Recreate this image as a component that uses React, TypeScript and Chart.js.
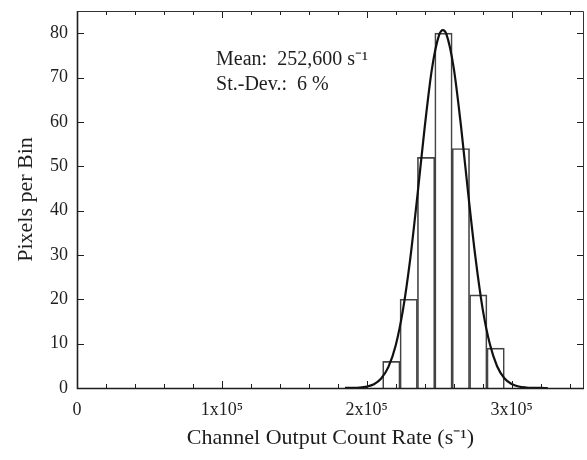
import React, { useEffect, useRef } from 'react';
import { Chart, registerables } from 'chart.js';

Chart.register(...registerables);

// Histogram bins (bin centres, 12,000 s^-1 wide) and counts
const BIN_CENTERS = [217000, 229000, 241000, 253000, 265000, 277000, 289000];
const BIN_COUNTS = [6, 20, 52, 80, 54, 21, 9];

// Gaussian fit curve
const FIT_X = [
  185000, 190000, 195000, 200000, 205000, 210000, 215000, 220000, 225000, 230000,
  235000, 240000, 245000, 250000, 252600, 255000, 260000, 265000, 270000, 275000,
  280000, 285000, 290000, 295000, 300000, 305000, 310000, 315000, 320000, 325000,
];
const FIT_Y = [
  0.01, 0.03, 0.1, 0.32, 0.86, 2.13, 4.75, 9.6, 17.55, 29.0,
  43.4, 58.7, 71.9, 79.6, 80.7, 79.8, 72.3, 59.3, 44.0, 29.6,
  17.9, 9.9, 4.9, 2.2, 0.9, 0.33, 0.11, 0.03, 0.01, 0.0,
];

const X_TICK_VALUES = [0, 100000, 200000, 300000];
const X_TICK_LABELS = ['0', '1x10\u2075', '2x10\u2075', '3x10\u2075'];
const X_MINOR_STEP = 20000;
const X_MAX = 350000;
const Y_TICK_VALUES = [0, 10, 20, 30, 40, 50, 60, 70, 80];
const Y_MAX = 85;

const X_TITLE = 'Channel Output Count Rate (s\u207B\u00B9)';
const Y_TITLE = 'Pixels per Bin';
const ANNOTATION_LINES = ['Mean:  252,600 s\u207B\u00B9', 'St.-Dev.:  6 %'];
const ANNOTATION_X = 96000;
const ANNOTATION_Y = [72.9, 67.3];

const SERIF = '"Liberation Serif", "Times New Roman", serif';
const INK = '#1e1e1e';

const framePlugin = {
  id: 'frameTicks',
  afterDatasetsDraw(chart: any) {
    const { ctx, chartArea: a, scales } = chart;
    const x = scales.x;
    const y = scales.y;
    ctx.save();
    ctx.strokeStyle = INK;
    ctx.lineWidth = 1;
    ctx.beginPath();
    for (let v = 0; v <= X_MAX; v += X_MINOR_STEP) {
      const px = Math.round(x.getPixelForValue(v)) + 0.5;
      const len = v % 100000 === 0 ? 7 : 4;
      ctx.moveTo(px, a.bottom);
      ctx.lineTo(px, a.bottom - len);
      ctx.moveTo(px, a.top);
      ctx.lineTo(px, a.top + len);
    }
    for (const v of Y_TICK_VALUES) {
      const py = Math.round(y.getPixelForValue(v)) + 0.5;
      ctx.moveTo(a.left, py);
      ctx.lineTo(a.left + 7, py);
      ctx.moveTo(a.right, py);
      ctx.lineTo(a.right - 7, py);
    }
    ctx.stroke();

    // frame: top/right thin, left/bottom heavier
    ctx.strokeStyle = '#333';
    ctx.lineWidth = 1;
    ctx.beginPath();
    ctx.moveTo(a.left, a.top + 0.5);
    ctx.lineTo(a.right - 0.5, a.top + 0.5);
    ctx.lineTo(a.right - 0.5, a.bottom);
    ctx.stroke();
    ctx.strokeStyle = INK;
    ctx.lineWidth = 1.6;
    ctx.beginPath();
    ctx.moveTo(a.left + 0.5, a.top);
    ctx.lineTo(a.left + 0.5, a.bottom + 0.5);
    ctx.lineTo(a.right, a.bottom + 0.5);
    ctx.stroke();

    // annotation
    ctx.fillStyle = INK;
    ctx.font = `20px ${SERIF}`;
    ctx.textAlign = 'left';
    ctx.textBaseline = 'alphabetic';
    ANNOTATION_LINES.forEach((t, i) => {
      ctx.fillText(t, x.getPixelForValue(ANNOTATION_X), y.getPixelForValue(ANNOTATION_Y[i]));
    });
    ctx.restore();
  },
};

export default function App() {
  const ref = useRef<HTMLCanvasElement | null>(null);

  useEffect(() => {
    document.body.style.margin = '0';
    const canvas = ref.current;
    if (!canvas) return;
    const chart = new Chart(canvas, {
      data: {
        datasets: [
          {
            type: 'line',
            label: 'Gaussian fit',
            data: FIT_X.map((v, i) => ({ x: v, y: FIT_Y[i] })),
            borderColor: '#111',
            borderWidth: 2.2,
            pointRadius: 0,
            fill: false,
            cubicInterpolationMode: 'monotone',
            order: 0,
          } as any,
          {
            type: 'bar',
            label: 'Pixels',
            data: BIN_CENTERS.map((v, i) => ({ x: v, y: BIN_COUNTS[i] })),
            backgroundColor: 'rgba(0,0,0,0)',
            borderColor: '#444',
            borderWidth: 1,
            barPercentage: 1,
            categoryPercentage: 1,
            order: 1,
          } as any,
        ],
      },
      options: {
        animation: false,
        responsive: false,
        maintainAspectRatio: false,
        layout: { padding: { top: 11, right: 3, left: 0, bottom: 0 } },
        plugins: {
          legend: { display: false },
          tooltip: { enabled: false },
        },
        scales: {
          x: {
            type: 'linear',
            offset: false,
            min: 0,
            max: X_MAX,
            grid: { display: false, drawTicks: false, offset: false },
            border: { display: false },
            afterBuildTicks: (s: any) => {
              s.ticks = X_TICK_VALUES.map((v) => ({ value: v }));
            },
            afterFit: (s: any) => {
              s.height = 72;
              s.paddingLeft = 0;
              s.paddingRight = 0;
            },
            ticks: {
              autoSkip: false,
              maxRotation: 0,
              padding: 11,
              color: INK,
              font: { family: SERIF, size: 18 },
              callback: (_v: any, i: number) => X_TICK_LABELS[i],
            },
            title: {
              display: true,
              text: X_TITLE,
              color: INK,
              font: { family: SERIF, size: 22 },
              padding: { top: 0, bottom: 9 },
            },
          },
          y: {
            type: 'linear',
            min: 0,
            max: Y_MAX,
            grid: { display: false, drawTicks: false },
            border: { display: false },
            afterBuildTicks: (s: any) => {
              s.ticks = Y_TICK_VALUES.map((v) => ({ value: v }));
            },
            afterFit: (s: any) => {
              s.width = 77;
              s.paddingTop = 0;
              s.paddingBottom = 0;
            },
            ticks: {
              autoSkip: false,
              padding: 9,
              color: INK,
              font: { family: SERIF, size: 18 },
            },
            title: {
              display: true,
              text: Y_TITLE,
              color: INK,
              font: { family: SERIF, size: 22 },
              padding: { top: 13, bottom: 0 },
            },
          },
        },
      },
      plugins: [framePlugin],
    } as any);
    return () => chart.destroy();
  }, []);

  return (
    <div style={{ width: 587, height: 460, background: '#fff' }}>
      <canvas ref={ref} width={587} height={460} style={{ display: 'block' }} />
    </div>
  );
}
